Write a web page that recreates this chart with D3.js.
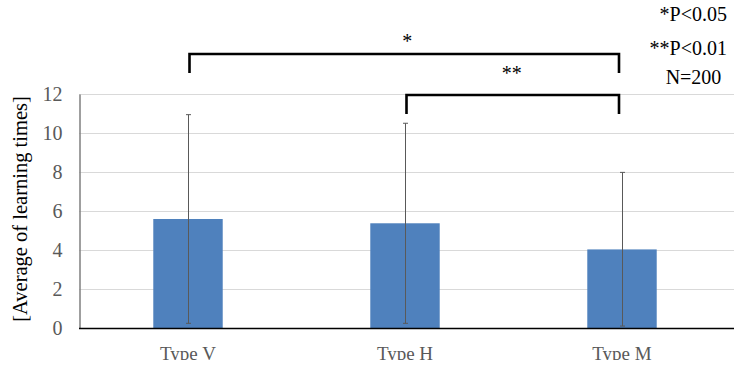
<!DOCTYPE html>
<html>
<head>
<meta charset="utf-8">
<script src="https://cdn.jsdelivr.net/npm/d3@7"></script>
<style>
  body { margin: 0; background: #fff; }
  svg { display: block; font-family: "Liberation Serif", "Times New Roman", serif; }
  svg text { font-family: "Liberation Serif", "Times New Roman", serif; }
</style>
</head>
<body>
<script>
// Chart data
const categories = ['Type V', 'Type H', 'Type M'];
const means = [5.59, 5.37, 4.03];
const errHigh = [10.94, 10.5, 7.98];
const errLow = [0.24, 0.24, 0.1];
const yTicks = [0, 2, 4, 6, 8, 10, 12];
const brackets = [
  { from: 'Type V', to: 'Type M', label: '*', level: 0 },
  { from: 'Type H', to: 'Type M', label: '**', level: 1 }
];
const notes = ['*P<0.05', '**P<0.01', 'N=200'];

const W = 734, H = 372;
const svg = d3.select('body').append('svg').attr('width', W).attr('height', H);

const x = d3.scaleBand().domain(categories).range([79.5, 730.5]).paddingInner(0.68).paddingOuter(0.34);
const y = d3.scaleLinear().domain([0, 12]).range([328, 94]);

// gridlines
svg.append('g').selectAll('line').data(yTicks.slice(1)).join('line')
  .attr('x1', 79).attr('x2', 734)
  .attr('y1', d => y(d) + 0.5).attr('y2', d => y(d) + 0.5)
  .attr('stroke', '#d9d9d9').attr('stroke-width', 1);

// y axis
const yAxis = svg.append('g').attr('transform', 'translate(79.5,0)')
  .call(d3.axisLeft(y).tickValues(yTicks).tickSize(0).tickPadding(17));
yAxis.attr('font-family', null);
yAxis.select('.domain').attr('stroke', '#7f7f7f').attr('stroke-width', 1.5);
yAxis.selectAll('text').attr('fill', '#595959').style('font-size', '20px');

// bars
svg.append('g').selectAll('rect').data(categories).join('rect')
  .attr('x', d => x(d))
  .attr('width', x.bandwidth())
  .attr('y', (d, i) => y(means[i]))
  .attr('height', (d, i) => y(0) - y(means[i]))
  .attr('fill', '#4f81bd');

// error bars
const eb = svg.append('g').attr('stroke', '#595959').attr('stroke-width', 1);
categories.forEach((c, i) => {
  const cx = Math.round(x(c) + x.bandwidth() / 2) + 0.5;
  eb.append('line').attr('x1', cx).attr('x2', cx).attr('y1', y(errHigh[i])).attr('y2', y(errLow[i]));
  eb.append('line').attr('x1', cx - 2.5).attr('x2', cx + 2.5).attr('y1', y(errHigh[i])).attr('y2', y(errHigh[i]));
  eb.append('line').attr('x1', cx - 2.5).attr('x2', cx + 2.5).attr('y1', y(errLow[i])).attr('y2', y(errLow[i]));
});

// x axis baseline
svg.append('line').attr('x1', 79).attr('x2', 734).attr('y1', 328.5).attr('y2', 328.5)
  .attr('stroke', '#000').attr('stroke-width', 1.3);

// x labels (bottom of image is cut off in the original)
svg.append('clipPath').attr('id', 'cut').append('rect').attr('x', 0).attr('y', 0).attr('width', W).attr('height', 360);
svg.append('g').attr('clip-path', 'url(#cut)').selectAll('text').data(categories).join('text')
  .attr('x', d => x(d) + x.bandwidth() / 2)
  .attr('y', 360)
  .attr('text-anchor', 'middle')
  .attr('fill', '#595959')
  .style('font-size', '19px')
  .text(d => d);

// y title
svg.append('text')
  .attr('transform', 'translate(27,209) rotate(-90)')
  .attr('text-anchor', 'middle')
  .attr('fill', '#000')
  .style('font-size', '20.5px')
  .text('[Average of learning times]');

// significance brackets
const bTop = [54, 95];
const starY = [48, 80];
brackets.forEach(b => {
  const x1 = x(b.from) + x.bandwidth() / 2 + 1.5;
  const x2 = x(b.to) + x.bandwidth() / 2 - 3;
  const yt = bTop[b.level];
  svg.append('path')
    .attr('d', `M${x1},${yt + 19}V${yt}H${x2}V${yt + 19}`)
    .attr('fill', 'none').attr('stroke', '#000').attr('stroke-width', 2.6);
  svg.append('text')
    .attr('x', b.level === 0 ? (x1 + x2) / 2 + 3 : (x1 + x2) / 2 - 1)
    .attr('y', starY[b.level])
    .attr('text-anchor', 'middle')
    .style('font-size', '20px')
    .text(b.label);
});

// notes
const noteY = [21, 55, 84];
svg.append('g').selectAll('text').data(notes).join('text')
  .attr('x', (d, i) => i === 2 ? 693.5 : 727)
  .attr('y', (d, i) => noteY[i])
  .attr('text-anchor', (d, i) => i === 2 ? 'middle' : 'end')
  .style('font-size', '20px')
  .text(d => d);
</script>
</body>
</html>
